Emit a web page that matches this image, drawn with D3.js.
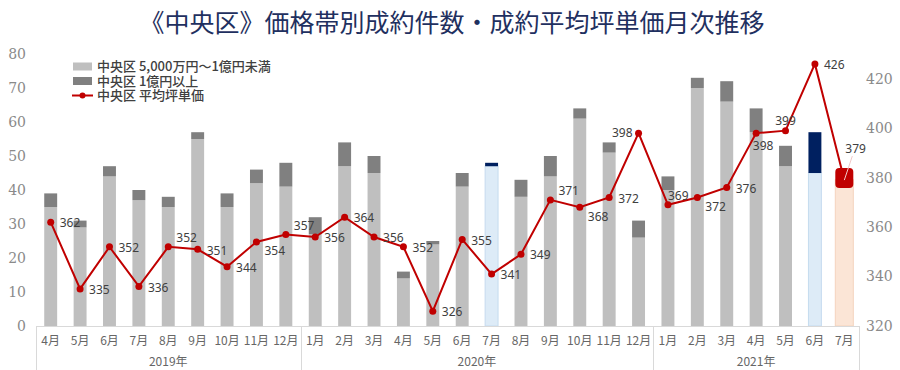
<!DOCTYPE html>
<html>
<head>
<meta charset="utf-8">
<script src="https://cdn.jsdelivr.net/npm/d3@7"></script>
<style>
  body { margin: 0; background: #fff; }
  svg { display: block; }
</style>
</head>
<body>
<div id="chart"></div>
<script>
// months on the x axis, grouped by year
const months = ['4月','5月','6月','7月','8月','9月','10月','11月','12月',
  '1月','2月','3月','4月','5月','6月','7月','8月','9月','10月','11月','12月',
  '1月','2月','3月','4月','5月','6月','7月'];
const yearLabels = ['2019年', '2020年', '2021年'];
const yearCounts = [9, 12, 7];

// 5,000万円～1億円未満 (件)
const lowerBand = [35,29,44,37,35,55,35,42,41,
  27,47,45,14,24,41,47,38,44,61,51,26,
  40,70,66,57,47,45,43];
// 1億円以上 (件)
const upperBand = [4,2,3,3,3,2,4,4,7,
  5,7,5,2,1,4,1,5,6,3,3,5,
  4,3,6,7,6,12,0];
// 平均坪単価 (万円)
const avgPrice = [362,335,352,336,352,351,344,354,357,
  356,364,356,352,326,355,341,349,371,368,372,398,
  369,372,376,398,399,426,379];

const leftTicks = [0,10,20,30,40,50,60,70,80];
const rightTicks = [320,340,360,380,400,420];

// where each value label sits around its point
const labelPos = ['r','r','r','r','tr','r','r','br','tr',
  'r','r','r','r','r','r','r','r','tr','br','r','l',
  'tn','br','r','b','t','r','lead'];
const labelOffsets = {
  r: [9, 1, 'start'], tr: [8, -9, 'start'], br: [8, 9, 'start'],
  l: [-6, 0, 'end'], t: [0, -10, 'middle'], b: [7, 13, 'middle'],
  tn: [0, -9, 'start'], lead: [1, -31, 'start']
};
const blueMonths = [15, 26];
const peachMonths = [27];

const W = 900, H = 370;
const svg = d3.select('#chart').append('svg').attr('width', W).attr('height', H);

const x = d3.scaleBand().domain(d3.range(months.length))
  .range([36, 859]).paddingInner(0.56).paddingOuter(0.28);
const step = x.step();
const cx = i => x(i) + x.bandwidth() / 2;
const yL = d3.scaleLinear().domain([0, 80]).range([326, 54]);
const yR = d3.scaleLinear().domain([320, 430]).range([326, 54]);

// title
svg.append('text')
  .attr('x', 452).attr('y', 32)
  .attr('text-anchor', 'middle')
  .attr('font-family', '"Noto Sans CJK JP", sans-serif')
  .attr('font-size', 25).attr('font-weight', 400)
  .attr('fill', '#1f3060')
  .text('《中央区》価格帯別成約件数・成約平均坪単価月次推移');

// left axis labels
svg.append('g').selectAll('text').data(leftTicks).enter().append('text')
  .attr('x', 26).attr('y', d => yL(d)).attr('dy', '0.35em')
  .attr('text-anchor', 'end')
  .attr('font-family', '"DejaVu Serif", serif').attr('font-size', 14)
  .attr('fill', '#8a8a8a').text(d => d);

// right axis labels
svg.append('g').selectAll('text').data(rightTicks).enter().append('text')
  .attr('x', 866).attr('y', d => yR(d)).attr('dy', '0.35em')
  .attr('text-anchor', 'start')
  .attr('font-family', '"DejaVu Serif", serif').attr('font-size', 14)
  .attr('fill', '#8a8a8a').text(d => d);

// bars
const bars = svg.append('g');
months.forEach((m, i) => {
  const blue = blueMonths.includes(i), peach = peachMonths.includes(i);
  const bw = peach ? 18 : x.bandwidth();
  const bx = cx(i) - bw / 2;
  bars.append('rect')
    .attr('x', bx).attr('width', bw)
    .attr('y', yL(lowerBand[i])).attr('height', yL(0) - yL(lowerBand[i]))
    .attr('fill', blue ? '#ddebf7' : peach ? '#fbe5d6' : '#bfbfbf')
    .attr('stroke', blue ? '#c5dbef' : peach ? '#f4d3bd' : 'none')
    .attr('stroke-width', 1);
  if (upperBand[i] > 0) {
    bars.append('rect')
      .attr('x', bx).attr('width', bw)
      .attr('y', yL(lowerBand[i] + upperBand[i]))
      .attr('height', yL(lowerBand[i]) - yL(lowerBand[i] + upperBand[i]))
      .attr('fill', blue ? '#002060' : '#808080');
  }
});

// x axis line and group separators
const axis = svg.append('g').attr('stroke', '#d9d9d9').attr('stroke-width', 1);
axis.append('line').attr('x1', 36).attr('x2', 859).attr('y1', 326.5).attr('y2', 326.5);
let acc = 0;
const seps = [0];
yearCounts.forEach(n => { acc += n; seps.push(acc); });
seps.forEach(k => {
  const sx = Math.round(x(0) - x.paddingOuter() * step + k * step) + 0.5;
  axis.append('line').attr('x1', sx).attr('x2', sx).attr('y1', 326).attr('y2', 370);
});

// month labels
svg.append('g').selectAll('text').data(months).enter().append('text')
  .attr('x', (d, i) => cx(i)).attr('y', 341).attr('dy', '0.35em')
  .attr('text-anchor', 'middle')
  .attr('font-family', '"Noto Sans CJK JP", sans-serif').attr('font-size', 12)
  .attr('fill', '#666').text(d => d);

// year labels
acc = 0;
yearLabels.forEach((y, j) => {
  const mid = (cx(acc) + cx(acc + yearCounts[j] - 1)) / 2;
  acc += yearCounts[j];
  svg.append('text')
    .attr('x', mid).attr('y', 362).attr('dy', '0.35em')
    .attr('text-anchor', 'middle')
    .attr('font-family', '"Noto Sans CJK JP", sans-serif').attr('font-size', 12)
    .attr('fill', '#666').text(y);
});

// average price line
const line = d3.line().x((d, i) => cx(i)).y(d => yR(d));
svg.append('path').datum(avgPrice)
  .attr('d', line).attr('fill', 'none')
  .attr('stroke', '#c00000').attr('stroke-width', 2);
svg.append('g').selectAll('circle').data(avgPrice.slice(0, -1)).enter().append('circle')
  .attr('cx', (d, i) => cx(i)).attr('cy', d => yR(d)).attr('r', 3.5)
  .attr('fill', '#c00000');
const last = avgPrice.length - 1;
svg.append('rect')
  .attr('x', cx(last) - 9).attr('y', yR(avgPrice[last]) - 12)
  .attr('width', 18).attr('height', 20).attr('rx', 4)
  .attr('fill', '#c00000');
svg.append('line')
  .attr('x1', cx(last)).attr('y1', yR(avgPrice[last]))
  .attr('x2', cx(last) + 8).attr('y2', yR(avgPrice[last]) - 24)
  .attr('stroke', '#f0c8c8').attr('stroke-width', 1);

// value labels
svg.append('g').selectAll('text').data(avgPrice).enter().append('text')
  .attr('x', (d, i) => cx(i) + labelOffsets[labelPos[i]][0])
  .attr('y', (d, i) => yR(d) + labelOffsets[labelPos[i]][1])
  .attr('dy', '0.35em')
  .attr('text-anchor', (d, i) => labelOffsets[labelPos[i]][2])
  .attr('font-family', '"Noto Sans", sans-serif').attr('font-size', 12)
  .attr('fill', '#404040').text(d => d);

// legend
const legendItems = ['中央区 5,000万円～1億円未満', '中央区 1億円以上', '中央区 平均坪単価'];
const legend = svg.append('g');
legendItems.forEach((t, j) => {
  const ly = 66.5 + j * 14.5;
  if (j < 2) {
    legend.append('rect').attr('x', 73).attr('y', ly - 4).attr('width', 19).attr('height', 8)
      .attr('fill', j === 0 ? '#bfbfbf' : '#808080');
  } else {
    legend.append('line').attr('x1', 72).attr('x2', 93).attr('y1', ly).attr('y2', ly)
      .attr('stroke', '#c00000').attr('stroke-width', 2);
    legend.append('circle').attr('cx', 82.5).attr('cy', ly).attr('r', 3).attr('fill', '#c00000');
  }
  legend.append('text').attr('x', 97).attr('y', ly).attr('dy', '0.35em')
    .attr('font-family', '"Noto Sans CJK JP", sans-serif').attr('font-size', 13)
    .attr('font-weight', 500).attr('fill', '#404040').text(t);
});
</script>
</body>
</html>
